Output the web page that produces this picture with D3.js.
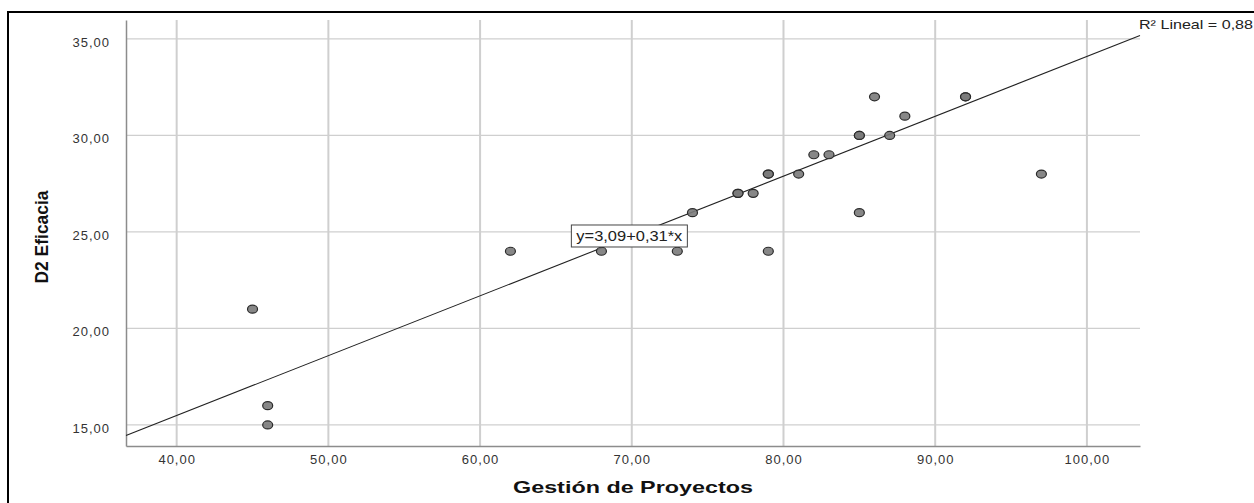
<!DOCTYPE html>
<html>
<head>
<meta charset="utf-8">
<script src="https://cdn.jsdelivr.net/npm/d3@7"></script>
<style>
  html, body { margin: 0; padding: 0; background: #fff; }
  svg { display: block; }
  text { font-family: "Liberation Sans", Arial, sans-serif; fill: #222; }
</style>
</head>
<body>
<svg id="chart" width="1254" height="503"></svg>
<script>
const width = 1254
const height = 503

// data (Gestión de Proyectos, D2 Eficacia)
const gestion = [45, 46, 46, 62, 68, 73, 74, 77, 77, 78, 79, 79, 79, 81, 82, 83, 85, 85, 85, 86, 87, 88, 92, 92, 97]
const eficacia = [21, 16, 15, 24, 24, 24, 26, 27, 27, 27, 28, 28, 24, 28, 29, 29, 30, 30, 26, 32, 30, 31, 32, 32, 28]
const xTicks = [40, 50, 60, 70, 80, 90, 100]
const yTicks = [15, 20, 25, 30, 35]
const intercept = 3.09
const slope = 0.31
const fitLabel = 'y=3,09+0,31*x'
const r2Label = 'R² Lineal = 0,88'

const plot = { left: 126, right: 1140, top: 20, bottom: 446 }

const x = d3.scaleLinear().domain([36.66, 103.5]).range([plot.left, plot.right])
const y = d3.scaleLinear().domain([13.91, 35.98]).range([plot.bottom, plot.top])

const fmt = v => d3.format('.2f')(v).replace('.', ',')

const svg = d3.select('#chart')

// outer frame
svg.append('path')
  .attr('d', `M8,${height + 10} V12 H${width + 10}`)
  .attr('fill', 'none')
  .attr('stroke', '#000')
  .attr('stroke-width', 2)

// grid
svg.append('g').selectAll('line').data(xTicks).join('line')
  .attr('x1', d => x(d)).attr('x2', d => x(d))
  .attr('y1', plot.top).attr('y2', plot.bottom)
  .attr('stroke', '#cfcfcf').attr('stroke-width', 2)

svg.append('g').selectAll('line').data(yTicks).join('line')
  .attr('x1', plot.left).attr('x2', plot.right)
  .attr('y1', d => y(d)).attr('y2', d => y(d))
  .attr('stroke', '#cfcfcf').attr('stroke-width', 1.3)

// axes
const xAxis = svg.append('g')
  .attr('transform', `translate(0,${plot.bottom})`)
  .call(d3.axisBottom(x).tickValues(xTicks).tickFormat(fmt).tickSize(0).tickPadding(9))
xAxis.select('.domain').attr('stroke', '#8c8c8c').attr('stroke-width', 1.5)
xAxis.selectAll('text')
  .style('font-family', '"Liberation Sans", Arial, sans-serif')
  .style('font-size', '13px').style('letter-spacing', '1px').style('fill', '#333')

const yAxis = svg.append('g')
  .attr('transform', `translate(${plot.left},0)`)
  .call(d3.axisLeft(y).tickValues(yTicks).tickFormat(fmt).tickSize(0).tickPadding(16))
yAxis.select('.domain').attr('stroke', '#8c8c8c').attr('stroke-width', 1.5)
yAxis.selectAll('text')
  .attr('dy', '0.55em')
  .style('font-family', '"Liberation Sans", Arial, sans-serif')
  .style('font-size', '13px').style('letter-spacing', '1px').style('fill', '#333')

// fit line
const x0 = x.domain()[0]
const x1 = x.domain()[1]
svg.append('line')
  .attr('x1', x(x0)).attr('y1', y(intercept + slope * x0))
  .attr('x2', x(x1)).attr('y2', y(intercept + slope * x1))
  .attr('stroke', '#222').attr('stroke-width', 1.1)

// points
const pts = gestion.map((g, i) => ({ g, e: eficacia[i] }))
svg.append('g').selectAll('ellipse').data(pts).join('ellipse')
  .attr('cx', d => x(d.g)).attr('cy', d => y(d.e))
  .attr('rx', 5).attr('ry', 4)
  .attr('fill', '#7a7a7a')
  .attr('stroke', '#2a2a2a').attr('stroke-width', 1.2)
  .attr('fill-opacity', 0.9)

// equation box
const boxCx = x(69.84)
const boxCy = y(24.79)
svg.append('rect')
  .attr('x', boxCx - 58).attr('y', boxCy - 11)
  .attr('width', 116).attr('height', 22)
  .attr('fill', '#fff').attr('stroke', '#444').attr('stroke-width', 1)
svg.append('text')
  .attr('x', boxCx).attr('y', boxCy + 5)
  .attr('text-anchor', 'middle')
  .attr('textLength', 106).attr('lengthAdjust', 'spacingAndGlyphs')
  .style('font-size', '14px')
  .text(fitLabel)

// R² label
svg.append('text')
  .attr('x', 1139).attr('y', 29)
  .attr('textLength', 114).attr('lengthAdjust', 'spacingAndGlyphs')
  .style('font-size', '13px')
  .text(r2Label)

// axis titles
svg.append('text')
  .attr('x', 633).attr('y', 493)
  .attr('text-anchor', 'middle')
  .attr('textLength', 240).attr('lengthAdjust', 'spacingAndGlyphs')
  .style('font-size', '17px').style('font-weight', 'bold').style('fill', '#111')
  .text('Gestión de Proyectos')

svg.append('text')
  .attr('transform', 'translate(48,237) rotate(-90)')
  .attr('text-anchor', 'middle')
  .attr('textLength', 93).attr('lengthAdjust', 'spacingAndGlyphs')
  .style('font-size', '18px').style('font-weight', 'bold').style('fill', '#111')
  .text('D2 Eficacia')
</script>
</body>
</html>
